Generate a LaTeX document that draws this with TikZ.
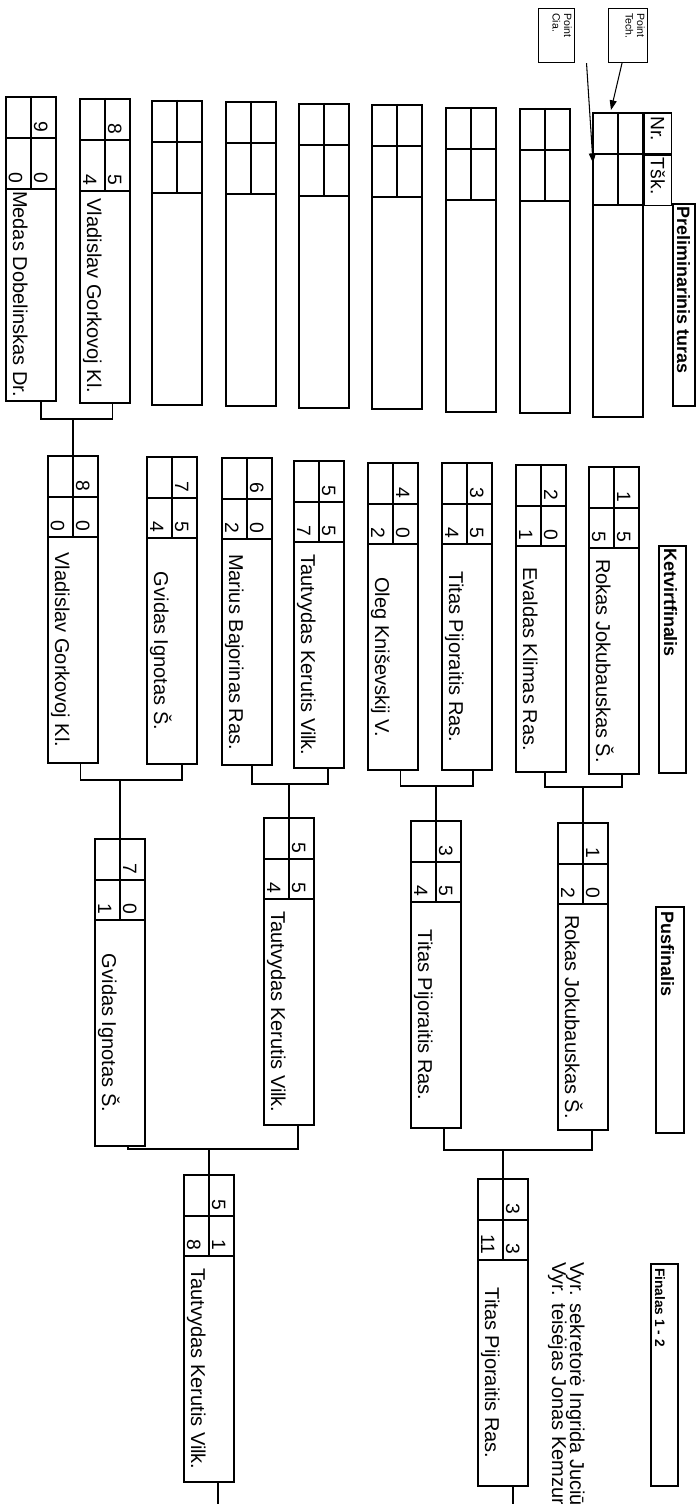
\documentclass[tikz,border=0pt]{standalone}
\usepackage{fontspec}
\setmainfont{Liberation Sans}
\usetikzlibrary{positioning, calc, arrows.meta}

\tikzset{
  entry/.style={draw, line width=0.9pt, minimum width=1cm, minimum height=6.14cm, anchor=north, inner sep=0pt},
  stage/.style={draw, line width=0.9pt, anchor=north west, inner sep=0pt},
  cellline/.style={line width=0.9pt},
  link/.style={line width=0.6pt},
  num/.style={rotate=-90, anchor=base east, inner sep=0pt, font=\fontsize{11}{13}\selectfont},
  player/.style={rotate=-90, anchor=base, inner sep=0pt, font=\fontsize{11.4}{13}\selectfont},
  stagetext/.style={rotate=-90, anchor=base west, inner sep=0pt, font=\fontsize{10.2}{12}\selectfont\bfseries},
  note/.style={rotate=-90, anchor=north west, align=left, inner sep=0pt, font=\fontsize{6}{6.5}\selectfont},
}

\begin{document}
\begin{tikzpicture}[x=0.02cm, y=-0.02cm, >={Triangle[length=5.5pt, width=4pt]}]
    \useasboundingbox (0,0) rectangle (699,1504);

    % ================= Preliminarinis turas =================
    \node[entry, minimum height=6.08cm] (p1) at (31,96) {};
    \node[entry, minimum height=6.08cm] (p2) at (105,98) {};
    \node[entry, minimum height=6.08cm] (p3) at (177,100) {};
    \node[entry, minimum height=6.08cm] (p4) at (251,101) {};
    \node[entry, minimum height=6.08cm] (p5) at (324,103) {};
    \node[entry, minimum height=6.08cm] (p6) at (397,104) {};
    \node[entry, minimum height=6.08cm] (p7) at (471,107) {};
    \node[entry, minimum height=6.08cm] (p8) at (545,108) {};
    \node[entry, minimum height=6.08cm] (p9) at (618,112) {};
    \foreach \n in {p1,p2,p3,p4,p5,p6,p7,p8,p9}{
        \draw[cellline] (\n.north) -- ++(0,93);
        \draw[cellline] (\n.north west) ++(0,42) -- ++(50,0);
        \draw[cellline] (\n.north west) ++(0,93) -- ++(50,0);
    }

    % Header cells
    \node[stage, minimum width=0.54cm, minimum height=0.82cm] (nr) at (p9.north east) {};
    \node[stage, minimum width=0.54cm, minimum height=1cm] (tsk) at (nr.south west) {};
    \node[stagetext, font=\fontsize{11}{13}\selectfont] (nrt) at ([shift={(7,4)}]nr.north west) {Nr.};
    \node[stagetext, font=\fontsize{11}{13}\selectfont] (tskt) at ([shift={(7,3)}]tsk.north west) {Tšk.};
    \node[stage, minimum width=0.44cm, minimum height=4.04cm] (h1) at (672,203) {};
    \node[stagetext] (h1t) at ([shift={(5,3)}]h1.north west) {Preliminarinis turas};

    % ================= Ketvirtfinalis =================
    \node[entry] (q1) at (73,455) {};
    \node[entry] (q2) at (172,456) {};
    \node[entry] (q3) at (247,457) {};
    \node[entry] (q4) at (319,460) {};
    \node[entry] (q5) at (393,462) {};
    \node[entry] (q6) at (467,462) {};
    \node[entry] (q7) at (541,464) {};
    \node[entry] (q8) at (614,466) {};
    \node[stage, minimum width=0.54cm, minimum height=4.54cm] (h2) at (658,545) {};
    \node[stagetext] (h2t) at ([shift={(6,3)}]h2.north west) {Ketvirtfinalis};

    % ================= Pusfinalis =================
    \node[entry] (s1) at (120,838) {};
    \node[entry] (s2) at (289,817) {};
    \node[entry] (s3) at (436,820) {};
    \node[entry] (s4) at (583,822) {};
    \node[stage, minimum width=0.56cm, minimum height=4.52cm] (h3) at (655,906) {};
    \node[stagetext] (h3t) at ([shift={(6,5)}]h3.north west) {Pusfinalis};

    % ================= Finalas =================
    \node[entry] (f1) at (209,1174) {};
    \node[entry] (f2) at (503,1178) {};
    \node[stage, minimum width=0.54cm, minimum height=4.44cm] (h4) at (650,1263) {};
    \node[stagetext, font=\fontsize{7.8}{9}\selectfont\bfseries] (h4t) at ([shift={(5,5)}]h4.north west) {Finalas 1 - 2};

    \foreach \n in {q1,q2,q3,q4,q5,q6,q7,q8,s1,s2,s3,s4,f1,f2}{
        \draw[cellline] (\n.north) -- ++(0,82);
        \draw[cellline] (\n.north west) ++(0,42) -- ++(50,0);
        \draw[cellline] (\n.north west) ++(0,82) -- ++(50,0);
    }

    % Scores
    \foreach \n/\a/\b/\c in {p1/9/0/0, p2/8/4/5}{
        \node[num] (\n a) at ([shift={(3,37)}]\n.north) {\a};
        \node[num] (\n b) at ([shift={(-22,88)}]\n.north) {\b};
        \node[num] (\n c) at ([shift={(3,88)}]\n.north) {\c};
    }
    \foreach \n/\a/\b/\c in {q1/8/0/0, q2/7/4/5, q3/6/2/0, q4/5/7/5, q5/4/2/0, q6/3/4/5, q7/2/1/0, q8/1/5/5,
                             s1/7/1/0, s2/5/4/5, s3/3/4/5, s4/1/2/0, f1/5/8/1, f2/3/11/3}{
        \node[num] (\n a) at ([shift={(3,37)}]\n.north) {\a};
        \node[num] (\n b) at ([shift={(-22,77)}]\n.north) {\b};
        \node[num] (\n c) at ([shift={(3,77)}]\n.north) {\c};
    }

    % Names
    \foreach \n/\t in {p1/Medas Dobelinskas Dr., p2/Vladislav Gorkovoj Kl.}{
        \node[player] (\n t) at ([shift={(-18,198)}]\n.north) {\t};
    }
    \foreach \n/\t in {q1/Vladislav Gorkovoj Kl., q2/Gvidas Ignotas Š., q3/Marius Bajorinas Ras.,
                       q4/Tautvydas Kerutis Vilk., q5/Oleg Kniševskij V., q6/Titas Pijoraitis Ras.,
                       q7/Evaldas Klimas Ras., q8/Rokas Jokubauskas Š., s1/Gvidas Ignotas Š.,
                       s2/Tautvydas Kerutis Vilk., s3/Titas Pijoraitis Ras., s4/Rokas Jokubauskas Š.,
                       f1/Tautvydas Kerutis Vilk., f2/Titas Pijoraitis Ras.}{
        \node[player] (\n t) at ([shift={(-18,195)}]\n.north) {\t};
    }

    % ================= Brackets =================
    \coordinate (jp) at ([yshift=0.72cm]q1.north);
    \draw[link] ([xshift=.2cm]p1.south) |- (jp) -| ([xshift=.15cm]p2.south);
    \draw[link] (jp) -- (q1.north);

    \coordinate (jq1) at ([yshift=1.16cm]s1.north);
    \coordinate (jq2) at ([yshift=0.66cm]s2.north);
    \coordinate (jq3) at ([yshift=0.68cm]s3.north);
    \coordinate (jq4) at ([yshift=0.7cm]s4.north);
    \draw[link] ([xshift=.15cm]q1.south) |- (jq1) -| ([xshift=.2cm]q2.south);
    \draw[link] ([xshift=.1cm]q3.south) |- (jq2) -| ([xshift=.18cm]q4.south);
    \draw[link] ([xshift=.15cm]q5.south) |- (jq3) -| ([xshift=.12cm]q6.south);
    \draw[link] ([xshift=.08cm]q7.south) |- (jq4) -| ([xshift=.16cm]q8.south);
    \foreach \n/\j in {s1/jq1, s2/jq2, s3/jq3, s4/jq4}{
        \draw[link] (\j) -- (\n.north);
    }

    \coordinate (js1) at ([yshift=0.5cm]f1.north);
    \coordinate (js2) at ([yshift=0.56cm]f2.north);
    \draw[link] ([xshift=.16cm]s1.south) |- (js1) -| ([xshift=.18cm]s2.south);
    \draw[link] ([xshift=.16cm]s3.south) |- (js2) -| ([xshift=.18cm]s4.south);
    \draw[link] (js1) -- (f1.north);
    \draw[link] (js2) -- (f2.north);
    \draw[link] ([xshift=.18cm]f1.south) -- ++(0,30);
    \draw[link] ([xshift=.2cm]f2.south) -- ++(0,30);

    % ================= Notes =================
    \node[stage, line width=0.6pt, minimum width=0.78cm, minimum height=1.08cm] (tech) at (608,8) {};
    \node[note] (techt) at ([shift={(-3,5)}]tech.north east) {Point\\Tech.};
    \node[stage, line width=0.6pt, minimum width=0.72cm, minimum height=1.08cm] (cia) at (538,8) {};
    \node[note] (ciat) at ([shift={(-3,5)}]cia.north east) {Point\\Cia.};
    \coordinate (techtip) at (611,110);
    \coordinate (ciatip) at (593,163);
    \draw[link, ->] ([xshift=-0.12cm]tech.south) -- (techtip);
    \draw[link, ->] ([xshift=0.6cm]cia.south) -- (ciatip);

    \node[player, anchor=base west] (judge) at (552,1262) {Vyr. teisėjas Jonas Kemzur};
    \node[player, anchor=base west] (secr) at (570,1262) {Vyr. sekretorė Ingrida Juciū};

\end{tikzpicture}
\end{document}
